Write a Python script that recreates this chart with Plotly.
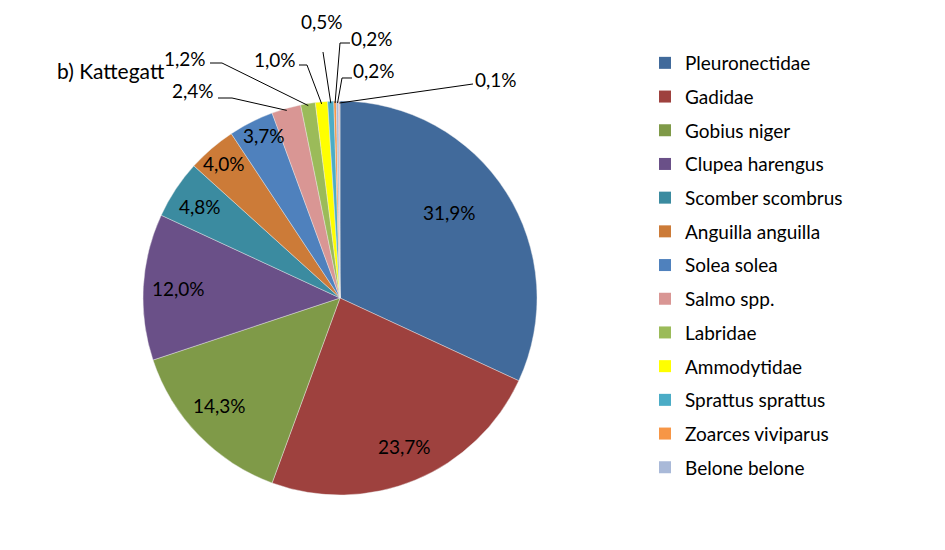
import math
import plotly.graph_objects as go

# data (share of catch, %)
species = ['Pleuronectidae', 'Gadidae', 'Gobius niger', 'Clupea harengus', 'Scomber scombrus',
           'Anguilla anguilla', 'Solea solea', 'Salmo spp.', 'Labridae', 'Ammodytidae',
           'Sprattus sprattus', 'Zoarces viviparus', 'Belone belone', 'Others']
shares = [31.9, 23.7, 14.3, 12.0, 4.8, 4.0, 3.7, 2.4, 1.2, 1.0, 0.5, 0.2, 0.2, 0.1]
colors = ['#416A9B', '#9E413E', '#7F9A48', '#6A5088', '#3B8BA0', '#CC7B38', '#4F81BD',
          '#D99694', '#9BBB59', '#FFFF00', '#4BACC6', '#F79646', '#A9B9D8', '#E6B9B8']
n_legend = 13  # legend in the original only lists the first 13 names

W, H = 945, 550
OFF = 8  # page body margin
CX, CY, R = 340, 298, 197
FONT = 'Lato, Open Sans, sans-serif'


def px(x, y):
    # screen pixel -> paper coords
    return (x - OFF) / W, 1 - (y - OFF) / H


def fmt(v):
    return f'{v:.1f}%'.replace('.', ',')


total = sum(shares)
starts = []
acc = 0
for v in shares:
    starts.append(acc)
    acc += v


def edge(i, r=R, frac=0.5):
    a = (starts[i] + frac * shares[i]) / total * 2 * math.pi
    return CX + r * math.sin(a), CY - r * math.cos(a)


def label(x, y, text, size=19, anchor='center'):
    ax, ay = px(x, y)
    return dict(x=ax, y=ay, xref='paper', yref='paper', text=text, showarrow=False,
                xanchor=anchor, yanchor='middle', font=dict(size=size, color='#000'))


x0, y1 = px(CX - R, CY - R)
x1, y0 = px(CX + R, CY + R)

fig = go.Figure()
fig.add_trace(go.Pie(
    labels=species, values=shares, sort=False, direction='clockwise', rotation=0,
    marker=dict(colors=colors, line=dict(color='rgba(235,235,235,0.7)', width=0.6)),
    textinfo='none', hoverinfo='label+percent', showlegend=False,
    domain=dict(x=[x0, x1], y=[y0, y1]),
))

# legend built from dummy square markers, one group per item to get Excel-like spacing
for i in range(n_legend):
    fig.add_trace(go.Scatter(
        x=[None], y=[None], mode='markers', name=species[i], legendgroup=species[i],
        marker=dict(symbol='square', size=12, color=colors[i]),
    ))

annotations = []
# labels inside the big slices: (radius fraction, position along the slice)
inner_pos = [(0.705, 0.455), (0.82, 0.49), (0.82, 0.547), (0.82, 0.5),
             (0.85, 0.47), (0.9, 0.5), (0.91, 0.64)]
for i, (f, t) in enumerate(inner_pos):
    annotations.append(label(*edge(i, R * f, t), fmt(shares[i])))

# outside labels with leader lines: (slice, label centre, elbow points)
outside = [
    (7, (193, 91), [(218, 98), (232, 98)]),
    (8, (185, 58), [(210, 63), (222, 63)]),
    (9, (275, 60), [(299, 65), (307, 65)]),
    (10, (322, 21), [(323, 52)]),
    (11, (372, 38), [(350, 43), (340, 43)]),
    (12, (374, 70), [(352, 78), (342, 78)]),
    (13, (496, 79), [(473, 84)]),
]
shapes = []
for i, (lx, ly), pts in outside:
    annotations.append(label(lx, ly, fmt(shares[i])))
    path_pts = [px(x, y) for x, y in pts + [edge(i, R - 2)]]
    path = 'M' + ' L'.join(f'{x:.5f},{y:.5f}' for x, y in path_pts)
    shapes.append(dict(type='path', path=path, xref='paper', yref='paper',
                       line=dict(color='#000', width=1)))

annotations.append(label(55, 70, 'b) Kattegatt', size=21, anchor='left'))

lx, ly = px(645, 44)
fig.update_layout(
    width=W, height=H,
    margin=dict(l=0, r=0, t=0, b=0),
    paper_bgcolor='white', plot_bgcolor='white',
    font=dict(family=FONT, size=19, color='#000'),
    xaxis=dict(visible=False), yaxis=dict(visible=False),
    annotations=annotations, shapes=shapes,
    legend=dict(x=lx, y=ly, xanchor='left', yanchor='top',
                tracegroupgap=6, font=dict(size=19, color='#000'),
                bgcolor='rgba(0,0,0,0)'),
)

fig.write_html('out.html')
